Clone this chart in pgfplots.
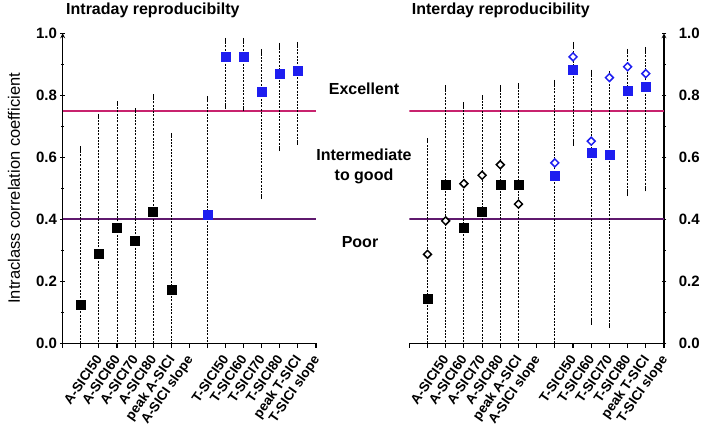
\documentclass[border=0pt]{standalone}
\usepackage{fontspec}
\setmainfont{Liberation Sans}
\usepackage{pgfplots}
\usepackage{pgfplotstable}
\pgfplotsset{compat=1.18}
\definecolor{exc}{RGB}{200,35,110}
\definecolor{poor}{RGB}{95,25,110}
\definecolor{sqblue}{RGB}{30,30,240}

% intraday: ICC with 95% CI (lo below 0 is clipped at the axis)
\pgfplotstableread{
x y hi lo
1 0.124 0.627 -0.1
2 0.288 0.732 -0.1
3 0.372 0.772 -0.1
4 0.330 0.750 -0.1
5 0.423 0.796 -0.1
6 0.174 0.670 -0.1
}\Aintra
\pgfplotstableread{
x y hi lo
8  0.415 0.789 -0.1
9  0.923 0.977 0.765
10 0.923 0.977 0.756
11 0.810 0.940 0.475
12 0.871 0.961 0.628
13 0.879 0.964 0.648
}\Tintra
% interday
\pgfplotstableread{
x y hi lo
1 0.145 0.653 -0.1
2 0.512 0.824 -0.1
3 0.373 0.770 -0.1
4 0.425 0.792 -0.1
5 0.513 0.824 -0.1
6 0.513 0.831 -0.1
}\Ainter
\pgfplotstableread{
x y hi lo
8  0.540 0.842 -0.1
9  0.884 0.964 0.645
10 0.615 0.875 0.068
11 0.608 0.870 0.057
12 0.816 0.942 0.483
13 0.827 0.947 0.498
}\Tinter
\pgfplotstableread{
x y
1 0.287
2 0.395
3 0.515
4 0.542
5 0.576
6 0.449
}\Adiam
\pgfplotstableread{
x y
8  0.582
9  0.924
10 0.652
11 0.857
12 0.892
13 0.870
}\Tdiam

\pgfplotsset{
  panel/.style={
    scale only axis, height=310bp,
    xmin=0, xmax=14, ymin=0, ymax=1,
    axis x line=bottom,
    axis line style={-, line width=1.2bp},
    every tick/.style={black, line width=1.1bp},
    tick align=outside,
    major tick length=4.5bp, minor tick length=3bp,
    xtick={0,...,14},
    xticklabels={,A-SICI50,A-SICI60,A-SICI70,A-SICI80,peak A-SICI,A-SICI slope,,T-SICI50,T-SICI60,T-SICI70,T-SICI80,peak T-SICI,T-SICI slope,},
    xticklabel style={rotate=55, anchor=north east, inner sep=0pt, xshift=3bp, yshift=-15bp,
      font=\fontsize{13.5bp}{16bp}\selectfont\bfseries},
    ytick={0,0.2,...,1.0}, minor y tick num=1,
    yticklabel style={font=\fontsize{15bp}{18bp}\selectfont\bfseries},
    /pgf/number format/fixed, /pgf/number format/fixed zerofill,
    /pgf/number format/precision=1, /pgf/number format/assume math mode=true,
  },
  ebar/.style={error bars/.cd, y dir=both, y explicit,
    error bar style={black, line width=0.9bp, dash pattern=on 2bp off 1.3bp},
    error mark options={black, solid, line width=0.9bp, mark size=2.5bp}},
  sq/.style={only marks, mark=square*, mark size=4.5bp, mark options={solid, fill=#1, draw=#1}},
  dm/.style={only marks, mark=square*, mark size=2.8bp, mark options={solid, rotate=45, fill=white, draw=#1, line width=1.5bp}},
}

\begin{document}
\begin{tikzpicture}
\path[use as bounding box] (0,0) rectangle (705bp,439bp);

\begin{axis}[panel, width=253.3bp, at={(62.7bp,95.7bp)}, anchor=south west,
  axis y line=left]
\addplot[exc, line width=1.6bp] coordinates {(0,0.75) (14,0.75)};
\addplot[poor, line width=1.6bp] coordinates {(0,0.4) (14,0.4)};
\addplot[sq=black, ebar] table[x=x, y=y, y error plus expr=\thisrow{hi}-\thisrow{y}, y error minus expr=\thisrow{y}-\thisrow{lo}] {\Aintra};
\addplot[sq=sqblue, ebar] table[x=x, y=y, y error plus expr=\thisrow{hi}-\thisrow{y}, y error minus expr=\thisrow{y}-\thisrow{lo}] {\Tintra};
\end{axis}

\begin{axis}[panel, width=254.7bp, at={(409.3bp,95.7bp)}, anchor=south west,
  axis y line=right, yticklabel style={xshift=9bp}]
\addplot[exc, line width=1.6bp] coordinates {(0,0.75) (14,0.75)};
\addplot[poor, line width=1.6bp] coordinates {(0,0.4) (14,0.4)};
\addplot[sq=black, ebar] table[x=x, y=y, y error plus expr=\thisrow{hi}-\thisrow{y}, y error minus expr=\thisrow{y}-\thisrow{lo}] {\Ainter};
\addplot[sq=sqblue, ebar] table[x=x, y=y, y error plus expr=\thisrow{hi}-\thisrow{y}, y error minus expr=\thisrow{y}-\thisrow{lo}] {\Tinter};
\addplot[dm=black] table[x=x, y=y] {\Adiam};
\addplot[dm=sqblue] table[x=x, y=y] {\Tdiam};
\end{axis}

% titles, axis label and band names
\node[anchor=base west, font=\fontsize{16bp}{19bp}\selectfont\bfseries, inner sep=0pt] at (66bp,424.5bp) {Intraday reproducibilty};
\node[anchor=base west, font=\fontsize{16bp}{19bp}\selectfont\bfseries, inner sep=0pt] at (411.7bp,424.5bp) {Interday reproducibility};
\node[rotate=90, font=\fontsize{16.5bp}{19bp}\selectfont, inner sep=0pt] at (14bp,250.7bp) {Intraclass correlation coefficient};
\begin{scope}[every node/.style={font=\fontsize{16bp}{20bp}\selectfont\bfseries, align=center, inner sep=0pt}]
\node at (364bp,350bp) {Excellent};
\node at (364bp,272.5bp) {Intermediate\\to good};
\node at (360bp,197bp) {Poor};
\end{scope}
\end{tikzpicture}
\end{document}
